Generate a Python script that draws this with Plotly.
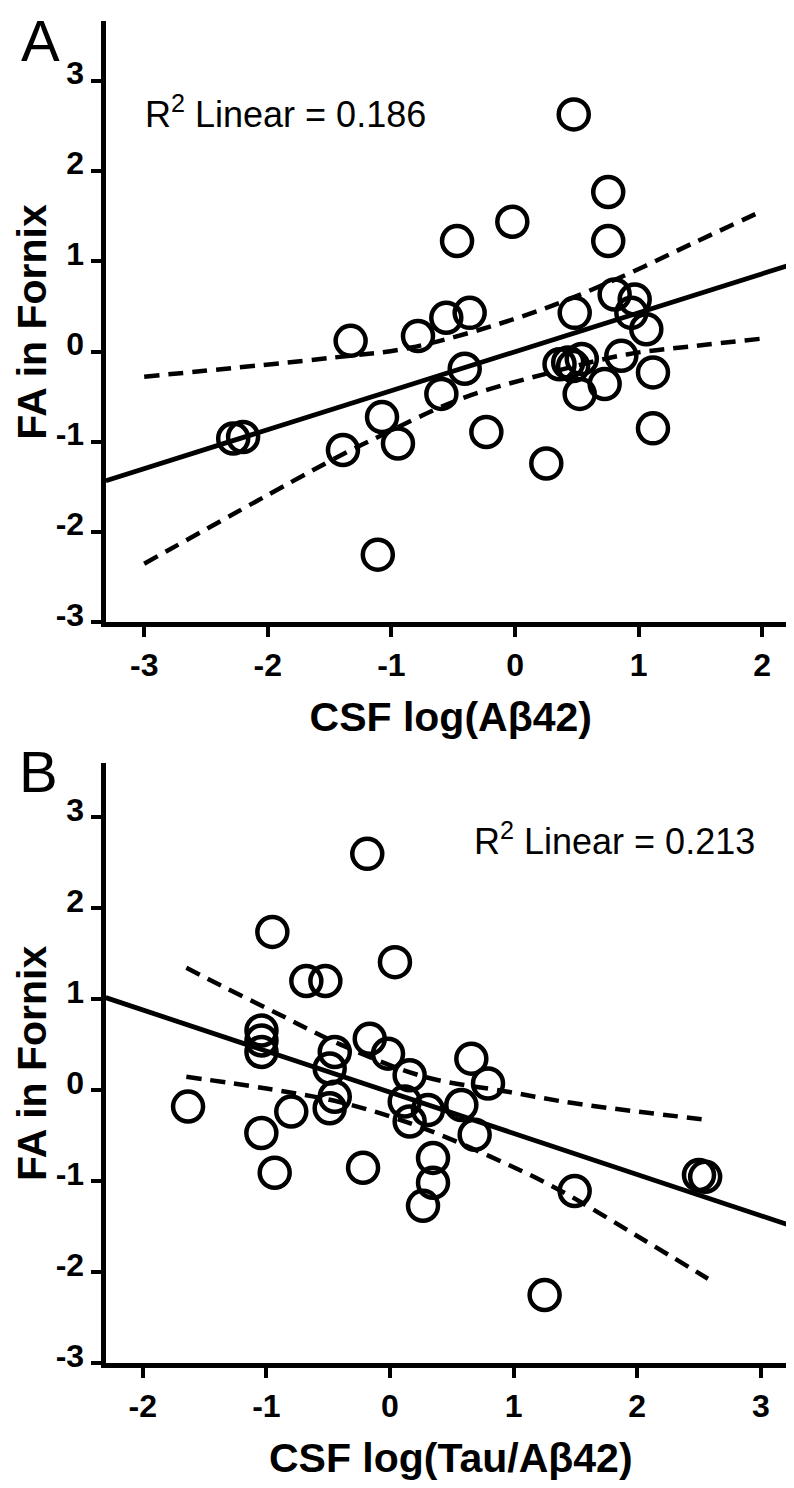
import plotly.graph_objects as go

W, H = 794, 1488

# ---------------- Panel A : CSF log(Aβ42) vs FA in Fornix ----------------
a_x = [0.475, 0.754, -0.022, -0.469, 0.754, -1.33, -0.785, -0.556, -0.367,
       -0.407, -0.596, -1.076, -0.947, -1.392, -0.232, 0.253, 0.483, 0.806,
       0.968, 0.941, 1.062, 1.116, 1.116, 0.86, 0.725, 0.523, 0.36, 0.43,
       0.47, 0.54, -2.28, -2.20, -1.11]
a_y = [2.63, 1.77, 1.44, 1.227, 1.227, 0.12, 0.174, 0.376, 0.43,
       -0.19, -0.468, -0.725, -1.018, -1.09, -0.89, -1.24, 0.43, 0.633,
       0.578, 0.43, 0.248, -0.23, -0.85, -0.046, -0.358, -0.468, -0.14, -0.12,
       -0.16, -0.08, -0.963, -0.945, -2.25]

a_fit_x = [-3.31, 2.27]
a_fit_y = [-1.43, 0.98]

a_up_x = [-3.0, -1.46, -0.84, 0.105, 0.78, 1.467, 2.0]
a_up_y = [-0.277, -0.064, 0.046, 0.413, 0.78, 1.22, 1.56]
a_lo_x = [-3.0, -1.432, -1.108, -0.434, 0.24, 0.914, 1.454, 2.0]
a_lo_y = [-2.35, -1.165, -0.945, -0.52, -0.248, -0.028, 0.064, 0.145]

# ---------------- Panel B : CSF log(Tau/Aβ42) vs FA in Fornix ----------------
b_x = [-0.184, -0.952, 0.04, -0.677, -0.523, -1.04, -1.04, -1.04, -0.447,
       -0.488, -0.164, -0.016, 0.159, 0.658, 0.793, -0.447, -0.488, -0.799,
       -1.041, -0.933, -0.218, 0.119, 0.307, 0.159, 0.577, 0.685, 0.348,
       0.348, 0.267, 1.494, 1.251, 2.50, 2.55, -1.634]
b_y = [2.60, 1.742, 1.41, 1.203, 1.203, 0.658, 0.549, 0.422, 0.422,
       0.24, 0.567, 0.404, 0.167, 0.349, 0.076, -0.069, -0.196, -0.233,
       -0.469, -0.905, -0.851, -0.123, -0.215, -0.342, -0.16, -0.487, -0.742,
       -1.015, -1.269, -1.105, -2.25, -0.93, -0.95, -0.178]

b_fit_x = [-2.30, 3.285]
b_fit_y = [1.02, -1.505]

b_up_x = [-1.648, -1.472, -0.933, -0.394, 0.281, 0.955, 1.494, 2.573]
b_up_y = [1.349, 1.225, 0.86, 0.50, 0.149, -0.015, -0.142, -0.324]
b_lo_x = [-1.648, -1.0, -0.4, 0.2, 0.8, 1.35, 2.0, 2.573]
b_lo_y = [0.15, 0.02, -0.13, -0.38, -0.72, -1.08, -1.60, -2.07]

x_ticks_a = [-3, -2, -1, 0, 1, 2]
x_labels_a = ["-3", "-2", "-1", "0", "1", "2"]
x_ticks_b = [-2, -1, 0, 1, 2, 3]
x_labels_b = ["-2", "-1", "0", "1", "2", "3"]
y_ticks = [-3, -2, -1, 0, 1, 2, 3]
y_labels = ["-3", "-2", "-1", "0", "1", "2", "3"]

FONT = "Liberation Sans, Arial, sans-serif"

fig = go.Figure()

marker = dict(symbol="circle-open", size=30, color="black",
              line=dict(width=4.5, color="black"))

def add_panel(xs, ys, fx, fy, ux, uy, lx, ly, xa, ya):
    for cx, cy in ((ux, uy), (lx, ly)):
        fig.add_trace(go.Scatter(x=cx, y=cy, mode="lines", line_shape="spline",
                                 line=dict(color="black", width=4.5, dash="15px,9px"),
                                 xaxis=xa, yaxis=ya, showlegend=False, hoverinfo="skip"))
    fig.add_trace(go.Scatter(x=fx, y=fy, mode="lines",
                             line=dict(color="black", width=4.8),
                             xaxis=xa, yaxis=ya, showlegend=False, hoverinfo="skip"))
    fig.add_trace(go.Scatter(x=xs, y=ys, mode="markers", marker=marker,
                             xaxis=xa, yaxis=ya, showlegend=False))

add_panel(a_x, a_y, a_fit_x, a_fit_y, a_up_x, a_up_y, a_lo_x, a_lo_y, "x", "y")
add_panel(b_x, b_y, b_fit_x, b_fit_y, b_up_x, b_up_y, b_lo_x, b_lo_y, "x2", "y2")

xdom = [97.5 / W, 788 / W]
a_ydom = [1 - 618.5 / H, 1 - 13 / H]
b_ydom = [1 - 1364.5 / H, 1 - 760 / H]

tickfont = dict(family=FONT, size=32, color="black", weight="bold")
titlefont = dict(family=FONT, size=41, color="black", weight="bold")

common = dict(showline=True, linewidth=5, linecolor="black", ticks="outside",
              ticklen=10, tickwidth=4, tickcolor="black", showgrid=False,
              zeroline=False, tickfont=tickfont, tickmode="array")

fig.update_layout(
    width=W, height=H, autosize=False,
    margin=dict(l=0, r=0, t=0, b=0),
    paper_bgcolor="white", plot_bgcolor="white",
    xaxis=dict(domain=xdom, range=[-3.313, 2.273], tickvals=x_ticks_a, ticktext=x_labels_a,
               anchor="y", title=dict(text="CSF log(Aβ42)", font=titlefont, standoff=22),
               **common),
    yaxis=dict(domain=a_ydom, range=[-3, 3.666], tickvals=y_ticks, ticktext=y_labels,
               anchor="x", ticklabelshift=-8, **common),
    xaxis2=dict(domain=xdom, range=[-2.302, 3.285], tickvals=x_ticks_b, ticktext=x_labels_b,
                anchor="y2", title=dict(text="CSF log(Tau/Aβ42)", font=titlefont, standoff=22),
                **common),
    yaxis2=dict(domain=b_ydom, range=[-3, 3.6], tickvals=y_ticks, ticktext=y_labels,
                anchor="x2", ticklabelshift=-8, **common),
)

# y-axis titles (rotated)
for ydom in (a_ydom, b_ydom):
    fig.add_annotation(text="FA in Fornix", textangle=-90, x=24 / W, y=(ydom[0] + ydom[1]) / 2,
                       xref="paper", yref="paper", xanchor="center", yanchor="middle",
                       showarrow=False, font=titlefont)

rfont = dict(family=FONT, size=36, color="black")
fig.add_annotation(text="R<sup>2</sup> Linear = 0.186", x=-3.01, y=2.66, xref="x", yref="y",
                   xanchor="left", yanchor="middle", showarrow=False, font=rfont)
fig.add_annotation(text="R<sup>2</sup> Linear = 0.213", x=0.66, y=2.76, xref="x2", yref="y2",
                   xanchor="left", yanchor="middle", showarrow=False, font=rfont)

lfont = dict(family=FONT, size=58, color="black")
fig.add_annotation(text="A", x=32 / W, y=1 - 33 / H, xref="paper", yref="paper",
                   xanchor="center", yanchor="middle", showarrow=False, font=lfont)
fig.add_annotation(text="B", x=30 / W, y=1 - 769 / H, xref="paper", yref="paper",
                   xanchor="center", yanchor="middle", showarrow=False, font=lfont)

fig.write_html("out.html")
